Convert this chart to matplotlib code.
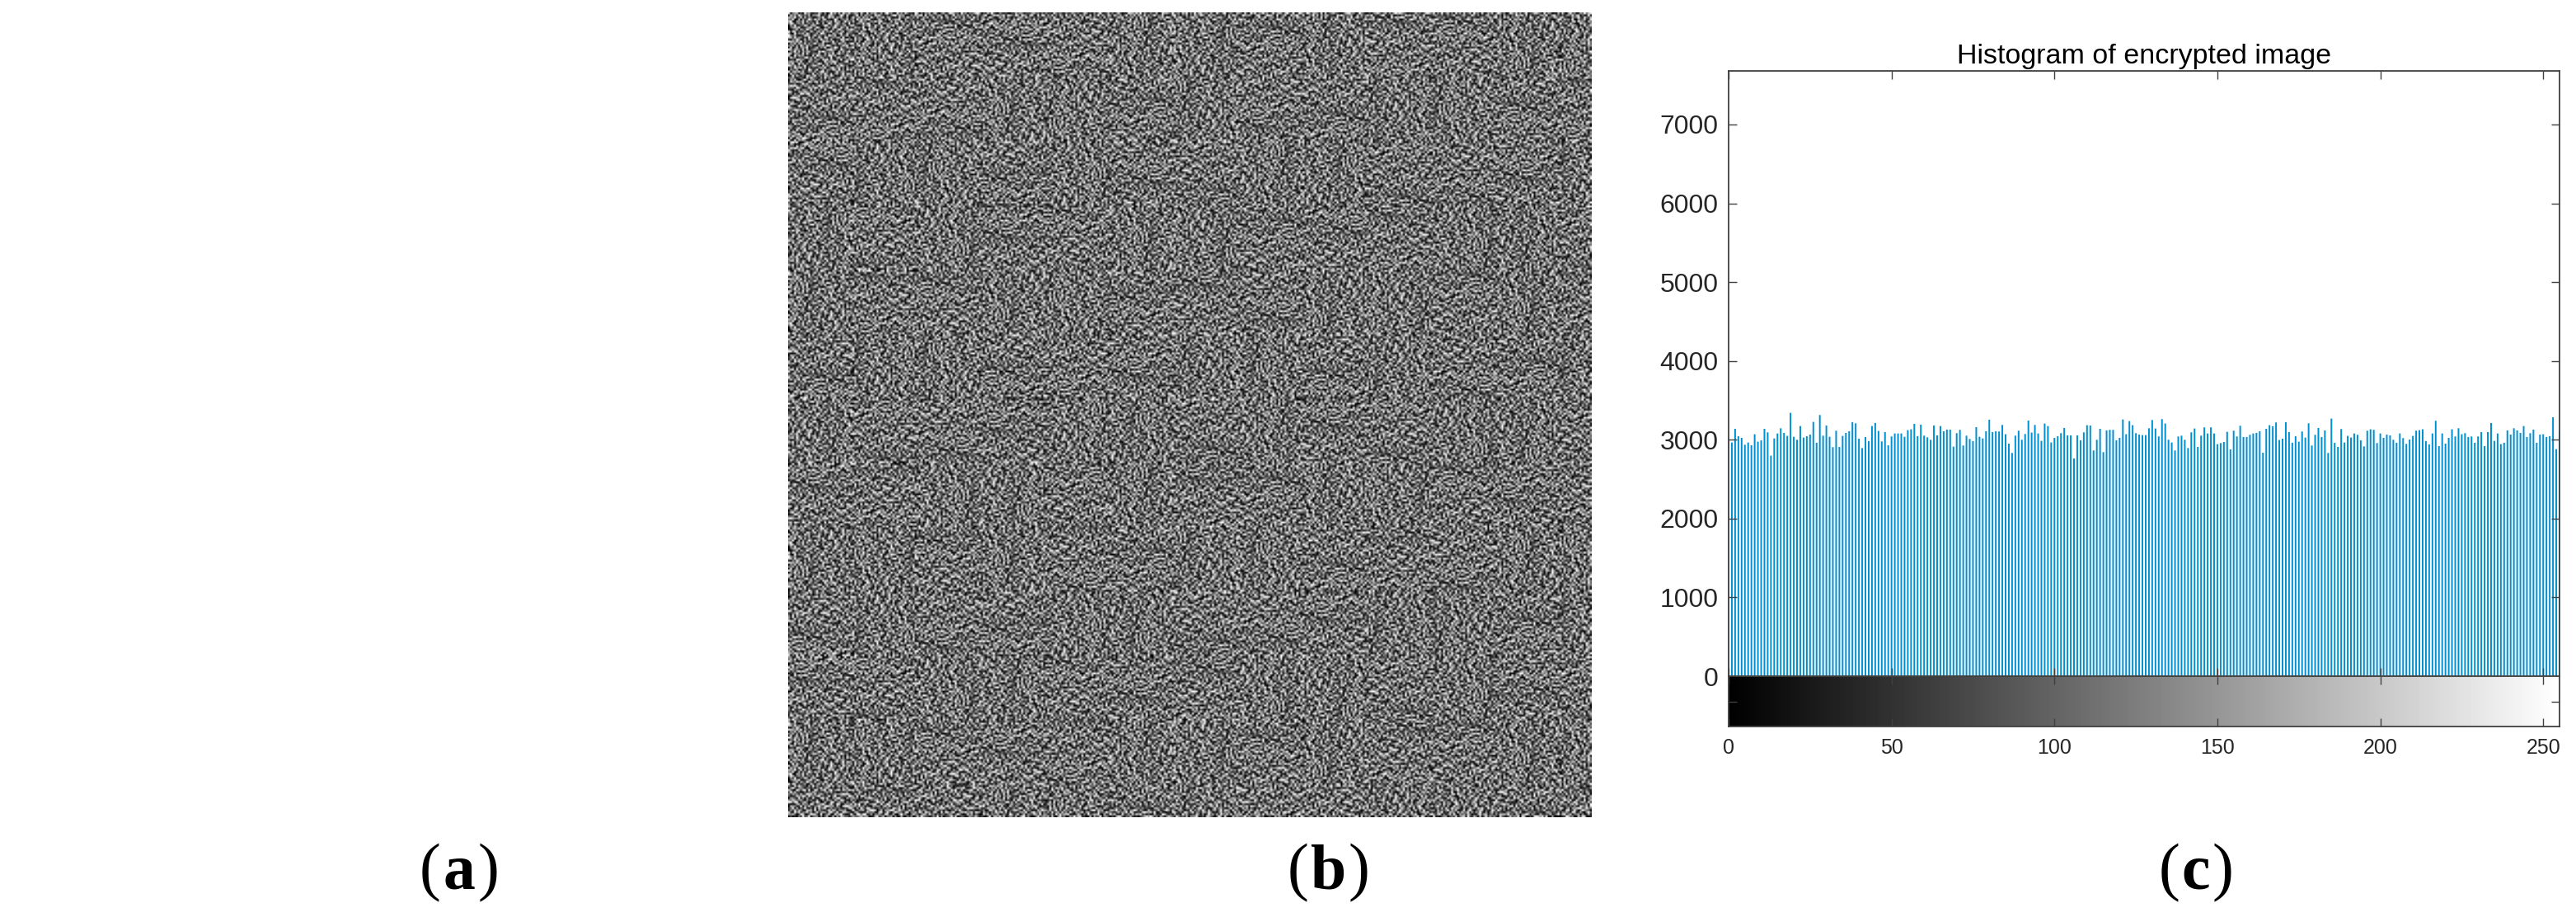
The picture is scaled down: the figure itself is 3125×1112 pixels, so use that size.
import numpy as np
import matplotlib
matplotlib.use("Agg")
import matplotlib.pyplot as plt

plt.rcParams["font.family"] = ["Liberation Sans", "DejaVu Sans"]

W, H = 3125, 1112

# Histogram counts, one per gray level 0..255
counts_0 = [3007, 2965, 3139, 3045, 3024, 2937, 2965, 2930, 3070, 2976, 2993, 3139, 3094, 2798, 3017, 3080,
            3146, 3087, 3049, 3342, 3038, 3000, 3174, 3028, 3045, 3066, 3227, 2962, 3314, 3052, 3181, 3038,
            2906, 3115, 2909, 3049, 3087, 3108, 3223, 3209, 3014, 2895, 3035, 2983, 3174, 3213, 3112, 2979,
            3098, 2930, 3042, 3080, 3080, 3080]
counts_54 = [3038, 3122, 3133, 3202, 3045, 3192, 3052, 3031, 3000, 3181, 3056, 3174, 3108, 3129, 3129, 2913,
             3084, 3126, 2927, 3052, 3010, 2983, 3160, 3038, 3017, 3108, 3255, 3098, 3108, 3105, 3188, 3070,
             2951, 2833, 3052, 3115, 3000, 3073, 3244, 3091, 3188, 3080, 2986, 3206, 3174, 2965, 3024, 3045,
             3084, 3150, 3056, 3056, 2763, 3056, 2993, 3094, 3185, 3181, 2864, 3000, 3139]
counts_115 = [2843, 3119, 3126, 3126, 2993, 3024, 3258, 3070, 3237, 3185, 3084, 3066, 3059, 3059, 3146, 3251,
              3143, 3042, 3262, 3206, 3000, 2965, 2864, 3042, 3052, 3000, 2895, 3094, 3143, 2909, 3052, 3157,
              3080, 3157, 3080, 2944, 2958, 2972, 3101, 2878, 3115, 3042, 3178, 3035, 3035, 3063, 3080, 3087,
              3108, 2836, 3139, 3185, 3171, 3220, 2997, 3014, 3223, 3098]
counts_173 = [2962, 3045, 2976, 3105, 3028, 3209, 2927, 3063, 3150, 3035, 3119, 2833, 3269, 2962, 2909, 3136,
              2965, 3049, 3028, 3080, 3063, 2993, 2916, 3115, 3133, 3126, 2958, 3080, 3024, 3066, 3056, 3000,
              2962, 3080, 3021, 2948, 3003, 3049, 3115, 3122, 3133, 2983, 2941, 3080, 3241, 2920, 3080, 2951,
              3024, 3133, 3042, 3146, 3070, 3084, 3035, 3042, 2962, 3042, 3098]
counts_232 = [2920, 3098, 3213, 2986, 3080, 2944, 2962, 3119, 3066, 3146, 3119, 3087, 3174, 3035, 3084, 3129,
              2962, 3066, 3070, 3035, 3045, 3286, 2881, 3112]
counts = counts_0 + counts_54 + counts_115 + counts_173 + counts_232
levels = list(range(256))

x_ticks = [0, 50, 100, 150, 200, 250]
y_ticks = [0, 1000, 2000, 3000, 4000, 5000, 6000, 7000]

# Hand typed gray texture for panel (b), one hex digit per cell.
# The real cipher image is too fine to read, so this only imitates its look:
# the same tile is laid out in shifted, turned blocks, it is not pixel data.
noise_rows = [
    "3e81c05fa27d94b61f08ec37a5d2694b",
    "b0247fd193ea658c07d1b4f2386ea09c",
    "6fa1085c3be72d94f1607ac9e2358bd4",
    "d2795eb04c18fa36b9e2057d1c84fa63",
    "09c4e3a7f16b28d05a9f3ec1746b02d8",
    "7b1fd8260c95ae43d76b10f4a8c3e925",
    "e4a6392fb7d01c58e26f97b3045dca18",
    "15d80ec4697ab2f3180dc5e6a9372f4b",
    "a93f76b1d2054ec8f7b3196ea04d2c85",
    "4c02eab85f3917d6042ecb8d7f1a6395",
    "f687d1304ca2e95b38f0a6d1c75e2b49",
    "20b9c5fe817346dae1597c2b0f84d6a3",
    "8d3a6e0297fc1b45c8a3e06d29b7f154",
    "c75104bde8a32f96175fb4ca83e0d269",
    "31eaf9678b02d4c59e2087f3d1b6ac45",
    "96d20c4b5f1ae783b46dc19a72f0e538",
    "0fb85a3ed7c16429ea7d30f5c8b2641e",
    "e36c9271f04bd58a0c93e8a1574df6b2",
    "5a80dbe4c7293f16b8f2460ed9a317c5",
    "b7142f6a9ed8035cf169ca7b3e250d84",
    "28fc07d3b5e1a96447da8e02f6c1b359",
    "d961e4a8032c7fb5903eb6d4a18f257c",
    "43ab7f15ce68d290c57184f9be3d0a26",
    "7e05c2986db4f3a1e8d2a75c04961fb3",
    "c18df3a4027e59b6317f0bc8e6d25a94",
    "0a6b5e82d19c47f3dc82e5961ba7043f",
    "f2973cb6ea0418d5a6b04f3d7281ec59",
    "64d81a05f7b3c2e97d5e19ac260f8b43",
    "9be3472dc8516fa0e421d7b3f9685c0a",
    "15a7f06e9d2b8c43b06ca8f45e1d3972",
    "e8c2bd3514fa0796d3897e21c0b46fa5",
    "3d0694a7c1e8b25f7a4cf10b96e2d583",
]
block_turns = [0, 2, 1, 3, 3, 0, 2, 1, 0, 3, 1]
block_row_shift = [5, 19, 2, 27, 11, 23, 8]
block_col_shift = [13, 4, 29, 17, 1, 22, 9, 26, 15, 6, 31, 20, 3]

tile = np.array([[int(c, 16) / 15 for c in row] for row in noise_rows], dtype=float) ** 1.3
blocks = []
for i in range(13):
    row = []
    for j in range(13):
        k = i * 13 + j
        b = np.roll(tile, (block_row_shift[k % 7], block_col_shift[k % 13]), axis=(0, 1))
        row.append(np.rot90(b, block_turns[k % 11]))
    blocks.append(row)
noise = np.block(blocks)


def px_axes(fig, left, top, right, bottom):
    return fig.add_axes([left / W, 1 - bottom / H, (right - left) / W, (bottom - top) / H])


def panel_label(fig, x, letter, half):
    # paren regular, letter bold, like the journal caption
    y = 1 - 1077 / H
    kw = dict(family="Liberation Serif", fontsize=56, va="baseline", color="black")
    fig.text((x - half) / W, y, "(", ha="right", **kw)
    fig.text(x / W, y, letter, ha="center", fontweight="bold", **kw)
    fig.text((x + half) / W, y, ")", ha="left", **kw)


fig = plt.figure(figsize=(W / 100, H / 100), dpi=100, facecolor="white")

ax_img = px_axes(fig, 956, 15, 1931, 991)
ax_img.imshow(noise[:400, :400], cmap="gray", vmin=0, vmax=1, aspect="auto", interpolation="bilinear")
ax_img.axis("off")

edge = "#404040"
text_col = "#262626"

ax = px_axes(fig, 2097, 86, 3105, 820)
bars = ax.bar(levels, counts, width=0.5, color="#0090d2", linewidth=0)
for b in bars:
    b.set_snap(False)
ax.set_xlim(0, 255)
ax.set_ylim(0, 7680)
ax.set_xticks(x_ticks)
ax.set_yticks(y_ticks)
ax.tick_params(axis="both", direction="in", length=7.2, width=1.0, color=edge,
               top=True, right=True, labelbottom=False)
ax.tick_params(axis="y", labelsize=23, labelcolor=text_col, pad=9)
for s in ax.spines.values():
    s.set_linewidth(1.3)
    s.set_color(edge)
fig.text(2601 / W, 1 - 77 / H, "Histogram of encrypted image", ha="center", va="baseline",
         fontsize=24.5, color="black")

ax_bar = px_axes(fig, 2097, 820, 3105, 881)
ax_bar.imshow(np.array(levels).reshape(1, -1), cmap="gray", vmin=0, vmax=255, aspect="auto",
              extent=[0, 255, 0, 1], interpolation="bilinear")
ax_bar.set_xlim(0, 255)
ax_bar.set_ylim(0, 1)
ax_bar.set_xticks(x_ticks)
ax_bar.set_yticks([0.5])
ax_bar.set_yticklabels([])
ax_bar.tick_params(axis="both", direction="in", length=7.2, width=1.0, color=edge, top=True, right=True)
ax_bar.tick_params(axis="x", labelsize=18, labelcolor=text_col, pad=10)
for s in ax_bar.spines.values():
    s.set_linewidth(1.3)
    s.set_color(edge)

panel_label(fig, 557, "a", 22)
panel_label(fig, 1612, "b", 24)
panel_label(fig, 2664, "c", 20)

fig.savefig("out.png", dpi=100, facecolor="white")
plt.close(fig)
